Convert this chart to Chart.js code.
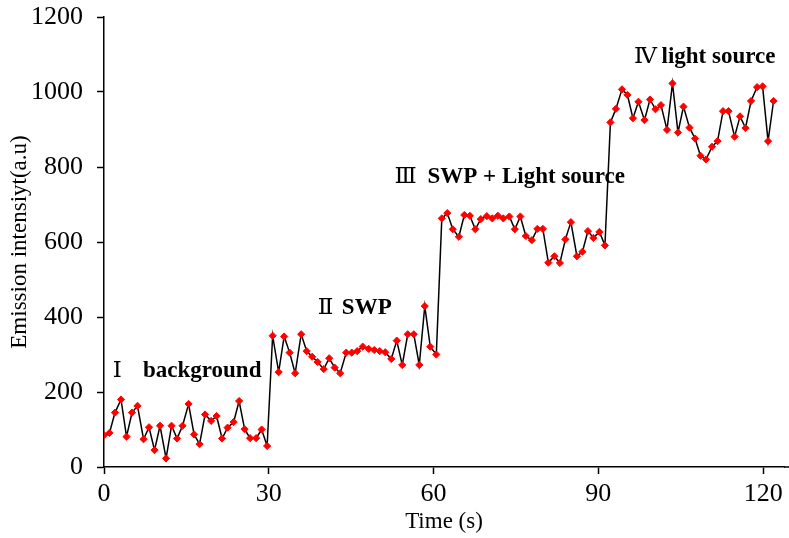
<!DOCTYPE html>
<html>
<head>
<meta charset="utf-8">
<script src="https://cdn.jsdelivr.net/npm/chart.js@4.4.1/dist/chart.umd.min.js"></script>
<style>
  html, body { margin: 0; padding: 0; background: #fff; }
  #wrap { width: 789px; height: 538px; }
</style>
</head>
<body>
<div id="wrap"><canvas id="emissionChart" width="789" height="538"></canvas></div>
<script>
// sample times (s)
const times = [
  0, 1.0, 2.0, 3.1, 4.1, 5.1, 6.1, 7.2, 8.2, 9.2,
  10.2, 11.3, 12.3, 13.3, 14.3, 15.4, 16.4, 17.4, 18.4, 19.5,
  20.5, 21.5, 22.5, 23.6, 24.6, 25.6, 26.6, 27.7, 28.7, 29.7,
  30.7, 31.8, 32.8, 33.8, 34.8, 35.9, 36.9, 37.9, 38.9, 40.0,
  41.0, 42.0, 43.0, 44.1, 45.1, 46.1, 47.1, 48.2, 49.2, 50.2,
  51.2, 52.3, 53.3, 54.3, 55.3, 56.4, 57.4, 58.4, 59.4, 60.5,
  61.5, 62.5, 63.5, 64.6, 65.6, 66.6, 67.6, 68.6, 69.7, 70.7,
  71.7, 72.7, 73.8, 74.8, 75.8, 76.8, 77.9, 78.9, 79.9, 80.9,
  82.0, 83.0, 84.0, 85.0, 86.1, 87.1, 88.1, 89.1, 90.2, 91.2,
  92.2, 93.2, 94.3, 95.3, 96.3, 97.3, 98.4, 99.4, 100.4, 101.4,
  102.5, 103.5, 104.5, 105.5, 106.6, 107.6, 108.6, 109.6, 110.7, 111.7,
  112.7, 113.7, 114.8, 115.8, 116.8, 117.8, 118.9, 119.9, 120.9, 121.9
];

// emission intensity (a.u)
const intensity = [
  85, 91, 145, 180, 81, 145, 163, 74, 106, 45,
  110, 23, 110, 76, 110, 168, 87, 61, 140, 123,
  136, 76, 105, 120, 176, 101, 77, 77, 100, 56,
  350, 253, 348, 305, 250, 354, 309, 294, 280, 261,
  290, 265, 250, 305, 305, 309, 321, 315, 312, 309,
  306, 288, 337, 272, 354, 354, 272, 429, 321, 300,
  663, 677, 634, 614, 672, 670, 634, 661, 669, 663,
  670, 663, 668, 634, 668, 616, 605, 635, 635, 545,
  562, 544, 607, 653, 562, 574, 629, 611, 627, 591,
  919, 955, 1007, 992, 930, 974, 925, 980, 954, 965,
  899, 1023, 892, 961, 905, 876, 830, 820, 854, 869,
  949, 949, 881, 935, 904, 976, 1013, 1015, 869, 976
];

const xTicks = [0, 30, 60, 90, 120];
const yTicks = [0, 200, 400, 600, 800, 1000, 1200];

// stage labels: numeral, text and where they sit (time, intensity)
const stageNumerals = ['Ⅰ', 'Ⅱ', 'Ⅲ', 'Ⅳ'];
const stageTexts = ['background', 'SWP', 'SWP + Light source', 'light source'];
const stageNumX = [1.6, 38.9, 52.9, 96.5];
const stageTextX = [7.1, 43.3, 58.9, 101.5];
const stageY = [256, 424, 773, 1093];

const serif = '"Liberation Serif", "Times New Roman", serif';

const stageLabels = {
  id: 'stageLabels',
  afterDatasetsDraw(chart) {
    const ctx = chart.ctx;
    const xs = chart.scales.x, ys = chart.scales.y;
    ctx.save();
    ctx.fillStyle = '#000';
    ctx.textBaseline = 'middle';
    ctx.textAlign = 'left';
    stageTexts.forEach((txt, i) => {
      const py = ys.getPixelForValue(stageY[i]);
      ctx.font = '23px "Liberation Serif", "DejaVu Serif", serif';
      ctx.fillText(stageNumerals[i], xs.getPixelForValue(stageNumX[i]), py);
      ctx.font = 'bold 23px ' + serif;
      ctx.fillText(txt, xs.getPixelForValue(stageTextX[i]), py);
    });
    // the x axis line runs on to the edge of the picture
    const area = chart.chartArea;
    ctx.strokeStyle = '#000';
    ctx.lineWidth = 1.5;
    ctx.beginPath();
    ctx.moveTo(area.right, area.bottom);
    ctx.lineTo(chart.width, area.bottom);
    ctx.stroke();
    ctx.restore();
  }
};

const ctx = document.getElementById('emissionChart').getContext('2d');

new Chart(ctx, {
  type: 'line',
  data: {
    datasets: [{
      data: times.map((t, i) => ({ x: t, y: intensity[i] })),
      borderColor: '#000',
      borderWidth: 1.5,
      pointStyle: 'rectRot',
      pointRadius: 3.6,
      pointBackgroundColor: '#ff0000',
      pointBorderColor: '#ff0000',
      pointBorderWidth: 1,
      tension: 0
    }]
  },
  options: {
    responsive: false,
    animation: false,
    layout: { padding: { top: 17, right: 0, left: 0, bottom: 0 } },
    plugins: {
      legend: { display: false },
      tooltip: { enabled: false }
    },
    scales: {
      x: {
        type: 'linear',
        min: 0,
        max: 123.8,
        afterBuildTicks: (scale) => { scale.ticks = xTicks.map(v => ({ value: v })); },
        afterFit: (scale) => { scale.height = 71; },
        border: { color: '#000', width: 1.5 },
        grid: { drawOnChartArea: false, drawTicks: true, tickLength: 7, color: '#000', tickWidth: 1.5 },
        ticks: { color: '#000', font: { family: serif, size: 26 }, padding: 5, maxRotation: 0 },
        title: {
          display: true,
          text: 'Time (s)',
          color: '#000',
          font: { family: serif, size: 23 },
          padding: { top: 0, bottom: 2 }
        }
      },
      y: {
        min: 0,
        max: 1200,
        afterBuildTicks: (scale) => { scale.ticks = yTicks.map(v => ({ value: v })); },
        afterFit: (scale) => {
          scale.width = 104;
          scale.paddingTop = 16;
          scale.paddingBottom = 16;
        },
        border: { color: '#000', width: 1.5 },
        grid: { drawOnChartArea: false, drawTicks: true, tickLength: 7, color: '#000', tickWidth: 1.5 },
        ticks: {
          color: '#000',
          font: { family: serif, size: 26 },
          padding: 14,
          callback: (v) => String(v)
        },
        title: {
          display: true,
          text: 'Emission intensiyt(a.u)',
          color: '#000',
          font: { family: serif, size: 23 },
          padding: { top: 6, bottom: 0 }
        }
      }
    }
  },
  plugins: [stageLabels]
});
</script>
</body>
</html>
